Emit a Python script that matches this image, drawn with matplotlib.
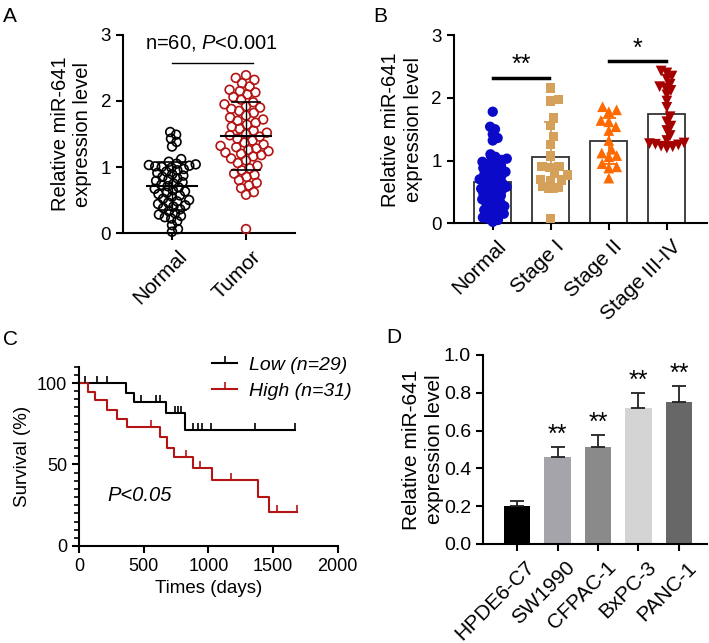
import numpy as np
import matplotlib
matplotlib.use('Agg')
import matplotlib.pyplot as plt
from matplotlib.lines import Line2D
from matplotlib.ticker import MultipleLocator
from matplotlib.transforms import ScaledTranslation

plt.rcParams.update({
    'font.family': ['Liberation Sans', 'DejaVu Sans'],
    'mathtext.fontset': 'custom',
    'mathtext.rm': 'Liberation Sans',
    'mathtext.it': 'Liberation Sans:italic',
    'axes.linewidth': 1.5,
    'xtick.major.width': 1.5, 'ytick.major.width': 1.5,
    'xtick.major.size': 5, 'ytick.major.size': 5,
    'xtick.minor.width': 1.2, 'ytick.minor.width': 1.2,
    'xtick.color': 'black', 'ytick.color': 'black',
})

# ---------------- Panel A data ----------------
a_groups = ['Normal', 'Tumor']
a_normal = [1.53, 1.49, 1.43, 1.38, 1.31,
            1.12, 1.08, 1.05, 1.04, 1.03, 1.02, 1.01, 1.00, 0.99, 0.97,
            0.95, 0.93, 0.91, 0.89, 0.87, 0.85, 0.83, 0.81, 0.79, 0.77,
            0.75, 0.73, 0.71, 0.69, 0.67, 0.65, 0.63, 0.61, 0.59, 0.57,
            0.55, 0.52, 0.50, 0.48, 0.46, 0.44, 0.42, 0.40, 0.38, 0.36,
            0.33, 0.30, 0.28, 0.26, 0.24, 0.22, 0.18, 0.12, 0.06, 0.02]
a_tumor = [2.39, 2.35, 2.32, 2.27, 2.22, 2.17, 2.15, 2.13, 2.10, 2.06,
           2.02, 1.98, 1.95, 1.92, 1.90, 1.88, 1.85, 1.82, 1.78, 1.75,
           1.72, 1.70, 1.67, 1.64, 1.61, 1.58, 1.55, 1.52, 1.50, 1.48,
           1.46, 1.43, 1.40, 1.37, 1.34, 1.32, 1.30, 1.28, 1.26, 1.24,
           1.22, 1.20, 1.18, 1.16, 1.13, 1.10, 1.06, 1.02, 0.98, 0.95,
           0.90, 0.88, 0.85, 0.80, 0.76, 0.72, 0.68, 0.62, 0.58, 0.06]

# ---------------- Panel B data ----------------
b_groups = ['Normal', 'Stage I', 'Stage II', 'Stage III-IV']
b_normal = [1.78, 1.54, 1.50, 1.42, 1.36, 1.32, 1.10, 1.06, 1.03, 1.01,
            1.00, 0.98, 0.97, 0.94, 0.92, 0.91, 0.88, 0.86, 0.85, 0.82,
            0.80, 0.79, 0.76, 0.74, 0.73, 0.70, 0.68, 0.67, 0.64, 0.62,
            0.61, 0.58, 0.56, 0.55, 0.53, 0.51, 0.50, 0.47, 0.45, 0.44,
            0.41, 0.39, 0.38, 0.35, 0.33, 0.32, 0.29, 0.27, 0.26, 0.23,
            0.21, 0.20, 0.17, 0.15, 0.14, 0.11, 0.09, 0.07, 0.05, 0.02]
b_stage1 = [2.16, 1.97, 1.95, 1.68, 1.56, 1.38, 1.26, 1.07, 0.90, 0.90,
            0.89, 0.79, 0.77, 0.70, 0.69, 0.68, 0.58, 0.57, 0.55, 0.07]
b_stage2 = [1.86, 1.81, 1.78, 1.64, 1.62, 1.54, 1.48, 1.32, 1.18, 1.12,
            1.08, 1.06, 0.88, 0.95, 0.90, 0.72]
b_stage34 = [2.43, 2.40, 2.35, 2.30, 2.22, 2.18, 2.16, 2.12, 2.05, 1.95,
             1.85, 1.70, 1.62, 1.55, 1.48, 1.40, 1.32, 1.28, 1.27, 1.26,
             1.25, 1.23, 1.22, 1.20]

# ---------------- Panel C data ----------------
low_t = [0, 360, 427, 676, 817, 1666]
low_s = [100, 93.7, 88.2, 81.4, 71.2, 71.2]
low_cens = [46, 136, 218, 476, 599, 625, 740, 766, 787, 882, 920, 951, 1023, 1357, 1666]
high_t = [0, 67, 124, 218, 290, 373, 630, 681, 735, 882, 1028, 1383, 1465, 1686]
high_s = [100, 94.5, 89.4, 83.7, 78.2, 72.7, 66.9, 60.4, 54.7, 47.6, 40.4, 30.2, 20.6, 20.6]
high_cens = [560, 830, 933, 1177, 1529, 1686]
c_labels = ['Low (n=29)', 'High (n=31)']

# ---------------- Panel D data ----------------
d_lines = ['HPDE6-C7', 'SW1990', 'CFPAC-1', 'BxPC-3', 'PANC-1']
d_vals = [0.20, 0.46, 0.515, 0.72, 0.75]
d_err = [0.025, 0.055, 0.063, 0.08, 0.085]
d_colors = ['#000000', '#a4a4aa', '#8a8a8a', '#d4d4d4', '#676767']

RED = '#b41414'


def swarm(vals, ysc, xsc, d):
    vals = np.asarray(vals, float)
    order = np.argsort(vals)
    placed = []
    xs = np.zeros(len(vals))
    for idx in order:
        y = vals[idx] * ysc
        neigh = [(px, py) for px, py in placed if abs(py - y) < d]
        cands = [0.0]
        for px, py in neigh:
            dx = np.sqrt(d * d - (py - y) ** 2)
            cands += [px + dx, px - dx]
        cands.sort(key=abs)
        chosen = cands[-1]
        for c in cands:
            if all((c - px) ** 2 + (y - py) ** 2 >= d * d - 1e-6 for px, py in neigh):
                chosen = c
                break
        placed.append((chosen, y))
        xs[idx] = chosen / xsc
    return xs


def style(ax):
    ax.spines['top'].set_visible(False)
    ax.spines['right'].set_visible(False)


def shift_labels(ax, fig, dx_px, dy_px=0):
    off = ScaledTranslation(dx_px / 100, dy_px / 100, fig.dpi_scale_trans)
    for lab in ax.get_xticklabels():
        lab.set_transform(lab.get_transform() + off)


fig = plt.figure(figsize=(7.09, 6.43), dpi=100)

# ================= Panel A =================
axA = fig.add_axes([0.1735, 0.6376, 0.2426, 0.308])
style(axA)
for i, (vals, col, dd) in enumerate([(a_normal, 'black', 6.5), (a_tumor, RED, 8.2)]):
    xs = swarm(vals, 66, 74, dd)
    axA.scatter(i + xs, vals, s=40, facecolors='none', edgecolors=col,
                linewidths=1.2, zorder=3, clip_on=False)
    m, sd = np.mean(vals), np.std(vals, ddof=1)
    axA.plot([i - 0.34, i + 0.34], [m, m], color='black', lw=1.5, zorder=5)
    axA.plot([i - 0.19, i + 0.19], [m + sd, m + sd], color='black', lw=1.2, zorder=5)
    axA.plot([i - 0.19, i + 0.19], [m - sd, m - sd], color='black', lw=1.2, zorder=5)
    axA.plot([i, i], [m - sd, m + sd], color='black', lw=1.0, zorder=5)
axA.plot([0, 1.1], [2.58, 2.58], color='black', lw=1.0)
axA.text(0.53, 2.72, r'n=60, $\mathit{P}$<0.001', ha='center', va='bottom', fontsize=14.5)
axA.set_xlim(-0.662, 1.662)
axA.set_ylim(0, 3)
axA.set_yticks([0, 1, 2, 3])
axA.set_xticks([0, 1])
axA.set_xticklabels(a_groups, rotation=45, ha='right', va='top', rotation_mode='anchor', fontsize=15)
axA.tick_params(axis='y', labelsize=13.5)
axA.set_ylabel('Relative miR-641\nexpression level', fontsize=14.5, linespacing=1.25, labelpad=6)
shift_labels(axA, fig, 5, -2)

# ================= Panel B =================
axB = fig.add_axes([0.640, 0.653, 0.357, 0.292])
style(axB)
b_data = [b_normal, b_stage1, b_stage2, b_stage34]
b_cols = ['#0a0ac8', '#d4a05a', '#ff6a00', '#a50000']
b_marks = ['o', 's', '^', 'v']
b_sizes = [55, 45, 60, 60]
b_d = [5.5, 8.0, 8.0, 6.0]
means = [np.mean(v) for v in b_data]
sds = [np.std(v, ddof=1) for v in b_data]
axB.bar(range(4), means, width=0.64, color='white', edgecolor='#333333', linewidth=1.3, zorder=1)
for i, vals in enumerate(b_data):
    xs = swarm(vals, 62.7, 58, b_d[i])
    axB.scatter(i + xs, vals, s=b_sizes[i], marker=b_marks[i], color=b_cols[i],
                edgecolors='none', zorder=3, clip_on=False)
    axB.errorbar(i, means[i], yerr=sds[i], color=b_cols[i], capsize=5, lw=1.3,
                 capthick=1.3, zorder=4)
axB.plot([0, 0.97], [2.32, 2.32], color='black', lw=2.5)
axB.text(0.5, 2.33, '**', ha='center', va='bottom', fontsize=18)
axB.plot([2.0, 2.99], [2.59, 2.59], color='black', lw=2.5)
axB.text(2.5, 2.59, '*', ha='center', va='bottom', fontsize=18)
axB.set_xlim(-0.672, 3.69)
axB.set_ylim(0, 3)
axB.set_yticks([0, 1, 2, 3])
axB.set_xticks(range(4))
axB.set_xticklabels(b_groups, rotation=45, ha='right', va='top', rotation_mode='anchor', fontsize=15)
axB.tick_params(axis='y', labelsize=13.5)
axB.set_ylabel('Relative miR-641\nexpression level', fontsize=14.5, linespacing=1.25, labelpad=6)
shift_labels(axB, fig, 4, -2)

# ================= Panel C =================
axC = fig.add_axes([0.1114, 0.1509, 0.365, 0.2788])
style(axC)


def surv_at(ts, ss, t):
    idx = np.searchsorted(ts, t, side='right') - 1
    return ss[idx]


axC.step(low_t, low_s, where='post', color='black', lw=1.5)
axC.step(high_t, high_s, where='post', color=RED, lw=1.5)
axC.plot(low_cens, [surv_at(low_t, low_s, t) for t in low_cens], ls='none',
         marker=2, color='black', ms=5, mew=1.2)
axC.plot(high_cens, [surv_at(high_t, high_s, t) for t in high_cens], ls='none',
         marker=2, color=RED, ms=5, mew=1.2)
axC.set_xlim(0, 2000)
axC.set_ylim(0, 110)
axC.set_xticks([0, 500, 1000, 1500, 2000])
axC.set_yticks([0, 50, 100])
axC.yaxis.set_minor_locator(MultipleLocator(5))
axC.tick_params(axis='y', which='minor', length=3.5)
axC.tick_params(labelsize=13)
axC.set_xlabel('Times (days)', fontsize=13.5)
axC.set_ylabel('Survival (%)', fontsize=13.5)
axC.text(470, 31, 'P<0.05', ha='center', va='center', fontsize=14.5, fontstyle='italic')
handles = [Line2D([], [], color='black', lw=1.5, marker=2, ms=5, mew=1.2),
           Line2D([], [], color=RED, lw=1.5, marker=2, ms=5, mew=1.2)]
fig.legend(handles, c_labels,
           loc='upper left', bbox_to_anchor=(212 / 709, 1 - 356 / 643), frameon=False,
           prop={'size': 14, 'style': 'italic'}, handlelength=1.3, handletextpad=0.6,
           labelspacing=0.45, borderaxespad=0, borderpad=0)

# ================= Panel D =================
axD = fig.add_axes([0.681, 0.154, 0.316, 0.294])
style(axD)
axD.bar(range(5), d_vals, width=0.66, color=d_colors, zorder=2,
        yerr=[np.zeros(5), d_err], capsize=5,
        error_kw=dict(elinewidth=1.3, capthick=1.3, ecolor='#222222', zorder=3))
for i in range(1, 5):
    axD.text(i, d_vals[i] + d_err[i] + 0.0, '**', ha='center', va='bottom', fontsize=18)
axD.set_xlim(-0.847, 4.69)
axD.set_ylim(0, 1.0)
axD.set_yticks([0.0, 0.2, 0.4, 0.6, 0.8, 1.0])
axD.set_yticklabels(['0.0', '0.2', '0.4', '0.6', '0.8', '1.0'])
axD.set_xticks(range(5))
axD.set_xticklabels(d_lines, rotation=45, ha='right', va='top', rotation_mode='anchor', fontsize=15)
axD.tick_params(axis='y', labelsize=14)
axD.set_ylabel('Relative miR-641\nexpression level', fontsize=15, linespacing=1.25, labelpad=0)
shift_labels(axD, fig, 8, -2)

# panel letters
for lab, x, y in [('A', 3, 22), ('B', 373, 22), ('C', 3, 345), ('D', 386, 343)]:
    fig.text(x / 709, 1 - y / 643, lab, fontsize=15, va='baseline', ha='left')

fig.savefig('out.png', dpi=100)
